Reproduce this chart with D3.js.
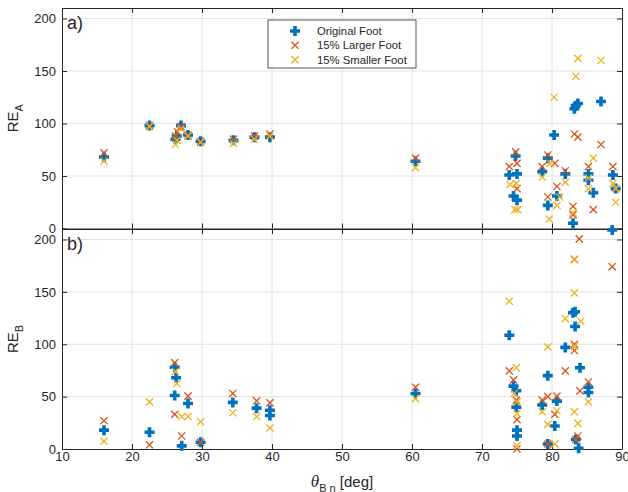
<!DOCTYPE html>
<html>
<head>
<meta charset="utf-8">
<script src="https://cdn.jsdelivr.net/npm/d3@7"></script>
<style>
  body { margin: 0; background: #fff; }
  text { font-family: "Liberation Sans", Arial, sans-serif; fill: #262626; }
</style>
</head>
<body>
<div id="chart"></div>
<script>
// theta [deg], RE values
const origA = [[16,68],[22.5,98],[26.2,85],[26.4,88],[27,98],[28,89],[29.8,83],[34.5,84],[37.5,87],[39.7,87],[60.5,64],
  [73.9,51],[74.5,31],[74.8,69],[75,52],[75,27],[78.6,54],[79.4,67],[79.4,22],[80.3,89],[80.7,31],
  [81.9,52],[83.0,5],[83.2,114],[83.4,117],[83.7,119],[85.2,52],[85.2,46],[85.9,34],[87,121],[88.7,51],[89.1,38]];
const largerA = [[16,72],[22.5,98],[26.2,88],[26.5,92],[27,97],[28,89],[29.8,83],[34.5,85],[37.5,88],[39.7,90],[60.5,67],
  [73.9,59],[74.8,73],[75,62],[75,38],[78.6,59],[79.4,70],[79.4,30],[80.4,62],[80.7,40],[81.9,55],
  [83.0,21],[83.0,13],[83.2,90],[83.7,87],[85.2,59],[85.9,18],[87,80],[88.7,59],[89.1,38]];
const smallerA = [[16,64],[22.5,97],[26.2,80],[26.4,84],[27,95],[28,88],[29.8,82],[34.5,81],[37.5,85],[39.7,88],[60.5,58],
  [74.0,42],[74.9,43],[74.7,18],[75.1,18],[78.6,49],[79.7,62],[79.6,9],[80.3,125],[80.7,22],[81.1,30],[81.9,44],
  [83.0,15],[83.4,145],[83.7,162],[85.2,48],[85.2,38],[85.9,67],[87,160],[88.7,43],[89.1,38],[89.1,25]];

const origB = [[16,18],[22.5,16],[26.1,78],[26.3,68],[26.1,51],[28,43.5],[27.1,3],[29.8,6.4],[34.4,44.5],[37.8,39],[39.7,37],[39.7,32],[60.5,53],
  [73.9,108.6],[74.5,60],[74.9,55.6],[74.9,40],[75,18],[75,12.4],[79.4,70],[78.6,42],[79.4,4.8],[80.7,45.7],[80.4,22],
  [81.9,97],[83.0,130],[83.3,131],[83.3,117],[83.4,9],[84.0,77.5],[83.8,0.7],[85.2,59],[85.2,54],[88.6,209]];
const largerB = [[16,27],[22.5,4],[26.1,82.5],[26.1,33],[28,50.5],[27.1,12.4],[29.8,6.4],[34.4,53],[37.8,46],[39.7,44],[60.5,59],
  [73.9,74.6],[74.5,66],[74.9,46.7],[75,28],[75,0],[78.6,46.7],[79.4,50],[79.4,4.8],[80.4,33],[80.7,50.5],[81.9,74.6],
  [83.2,181],[83.2,100],[83.2,94],[83.7,12.4],[83.4,9],[83.9,200.6],[84.0,55.5],[85.2,64],[88.6,174]];
const smallerB = [[16,7.6],[22.5,45],[26.2,74],[26.4,62.5],[27.1,31],[28,31],[29.8,26],[34.4,34.6],[37.8,31],[39.7,20],[60.5,48],
  [73.9,141],[74.9,77.5],[74.6,53],[75,45],[75,34],[75,3],[79.4,97.5],[78.6,35.5],[79.4,23.5],[80.4,4.8],[80.7,36.5],
  [81.9,124.5],[83.2,181],[83.2,149],[83.2,98],[84.1,122],[83.2,35.5],[83.7,24.5],[85.2,45]];

const seriesNames = ["Original Foot", "15% Larger Foot", "15% Smaller Foot"];
const colors = ["#0072BD", "#D95319", "#EDB120"];
const xTicks = [10, 20, 30, 40, 50, 60, 70, 80, 90];
const yTicks = [0, 50, 100, 150, 200];

const width = 628, height = 492;
const left = 62, right = 622;

const svg = d3.select("#chart").append("svg")
    .attr("width", width)
    .attr("height", height);

const x = d3.scaleLinear().domain([10, 90]).range([left, right]);

const plusPath = "M-5,0H5M0,-5V5";
const crossPath = "M-3.6,-3.6L3.6,3.6M-3.6,3.6L3.6,-3.6";

function drawPanel(top, bottom, sets, label, yName, sub, showXLabels) {
    const y = d3.scaleLinear().domain([0, 210]).range([bottom, top]);
    const g = svg.append("g");

    // grid
    g.selectAll(".gx").data(xTicks.slice(1, -1)).enter().append("line")
        .attr("x1", d => x(d)).attr("x2", d => x(d))
        .attr("y1", top).attr("y2", bottom)
        .attr("stroke", "#e2e2e2").attr("stroke-width", 1);
    g.selectAll(".gy").data(yTicks.slice(1)).enter().append("line")
        .attr("x1", left).attr("x2", right)
        .attr("y1", d => y(d)).attr("y2", d => y(d))
        .attr("stroke", "#e2e2e2").attr("stroke-width", 1);

    // axes, ticks pointing inward
    g.append("g").attr("transform", `translate(0,${bottom})`)
        .call(d3.axisBottom(x).tickValues(xTicks).tickSizeInner(-5).tickSizeOuter(0)
            .tickFormat(showXLabels ? d3.format("d") : () => ""));
    g.append("g").attr("transform", `translate(0,${top})`)
        .call(d3.axisTop(x).tickValues(xTicks).tickSizeInner(-5).tickSizeOuter(0).tickFormat(() => ""));
    const yAx = g.append("g").attr("transform", `translate(${left},0)`)
        .call(d3.axisLeft(y).tickValues(yTicks).tickSizeInner(-5).tickSizeOuter(0));
    g.append("g").attr("transform", `translate(${right},0)`)
        .call(d3.axisRight(y).tickValues(yTicks).tickSizeInner(-5).tickSizeOuter(0).tickFormat(() => ""));

    g.selectAll(".domain").attr("stroke", "#262626").attr("stroke-width", 1);
    g.selectAll(".tick line").attr("stroke", "#262626");
    g.selectAll(".tick text").attr("font-size", 13)
        .attr("font-family", "Liberation Sans, Arial, sans-serif").attr("fill", "#262626");
    yAx.selectAll(".tick text").attr("x", -6);

    // markers
    sets.forEach((s, i) => {
        g.selectAll(".m" + i).data(s).enter().append("path")
            .attr("transform", d => `translate(${x(d[0])},${y(d[1])})`)
            .attr("d", i === 0 ? plusPath : crossPath)
            .attr("fill", "none")
            .attr("stroke", colors[i])
            .attr("stroke-width", i === 0 ? 3.6 : 1.3);
    });

    g.append("text").attr("x", left + 5).attr("y", top + 21)
        .attr("font-size", 18).text(label);

    const yl = g.append("text")
        .attr("transform", `translate(18,${(top + bottom) / 2}) rotate(-90)`)
        .attr("text-anchor", "middle").attr("font-size", 15);
    yl.append("tspan").text(yName);
    yl.append("tspan").attr("font-size", 11).attr("dy", 5).text(sub);
}

drawPanel(8, 228.5, [origA, largerA, smallerA], "a)", "RE", "A", false);
drawPanel(229, 449, [origB, largerB, smallerB], "b)", "RE", "B", true);

// x label
const xl = svg.append("text").attr("x", 342).attr("y", 487)
    .attr("text-anchor", "middle").attr("font-size", 15);
xl.append("tspan").attr("font-style", "italic").attr("font-family", "Liberation Serif, serif").attr("font-size", 17).text("θ");
xl.append("tspan").attr("font-size", 11).attr("dy", 5).text("B n");
xl.append("tspan").attr("dy", -5).text(" [deg]");

// legend
const lg = svg.append("g").attr("transform", "translate(268,20)");
lg.append("rect").attr("width", 148).attr("height", 48)
    .attr("fill", "#fff").attr("stroke", "#262626").attr("stroke-width", 0.8);
seriesNames.forEach((n, i) => {
    const yy = 11 + i * 14.3;
    lg.append("path").attr("transform", `translate(27,${yy})`)
        .attr("d", i === 0 ? plusPath : crossPath)
        .attr("fill", "none").attr("stroke", colors[i])
        .attr("stroke-width", i === 0 ? 3.6 : 1.3);
    lg.append("text").attr("x", 49).attr("y", yy + 4).attr("font-size", 11.3).text(n);
});
</script>
</body>
</html>
